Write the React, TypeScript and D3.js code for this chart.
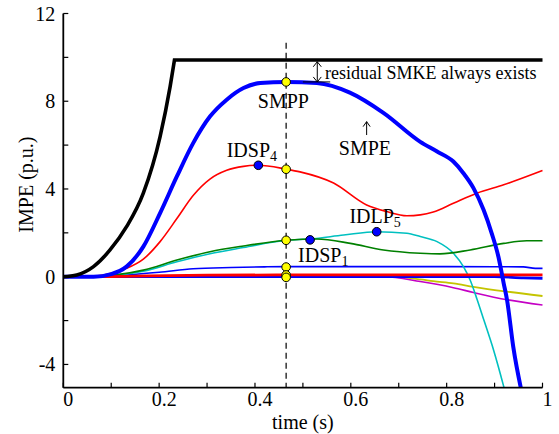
import React from 'react';
import * as d3 from 'd3';

// ---- data ----
const blackRiseT = [0, 0.028, 0.063, 0.0975, 0.132, 0.167, 0.202, 0.223, 0.232];
const blackRiseV = [0, 0.08, 0.46, 1.22, 2.28, 3.81, 6.39, 8.68, 9.88];
const blackFlatT = [0.232, 1.0];
const blackFlatV = [9.88, 9.88];

const smpeT = [0, 0.063, 0.1, 0.132, 0.167, 0.202, 0.237, 0.271, 0.306, 0.341, 0.376, 0.411, 0.466, 0.529, 0.598, 0.668, 0.745, 0.78, 0.814, 0.835, 0.856, 0.877, 0.894, 0.908, 0.919, 0.926, 0.939, 0.957];
const smpeV = [0, 0, 0.12, 0.46, 1.37, 2.9, 4.57, 6.09, 7.3, 8.07, 8.6, 8.83, 8.88, 8.83, 8.39, 7.47, 6.15, 5.71, 5.25, 4.72, 4.04, 3.05, 1.98, 0.91, -0.3, -1.06, -3.2, -5.3];

const redT = [0, 0.06, 0.0975, 0.132, 0.167, 0.202, 0.237, 0.271, 0.306, 0.341, 0.376, 0.407, 0.466, 0.494, 0.564, 0.633, 0.675, 0.717, 0.745, 0.772, 0.814, 0.863, 0.919, 1.0];
const redV = [0, 0.02, 0.15, 0.38, 0.8, 1.6, 2.65, 3.7, 4.45, 4.85, 5.03, 5.08, 4.9, 4.78, 4.27, 3.27, 2.97, 2.78, 2.82, 2.95, 3.35, 3.81, 4.19, 4.84];

const greenT = [0, 0.063, 0.167, 0.237, 0.306, 0.376, 0.466, 0.529, 0.599, 0.668, 0.745, 0.786, 0.849, 0.919, 0.967, 1.0];
const greenV = [0, 0.02, 0.3, 0.76, 1.14, 1.4, 1.66, 1.72, 1.52, 1.22, 1.07, 1.04, 1.22, 1.52, 1.64, 1.64];

const cyanT = [0, 0.063, 0.167, 0.237, 0.306, 0.376, 0.466, 0.515, 0.585, 0.654, 0.717, 0.745, 0.78, 0.814, 0.835, 0.849, 0.863, 0.878, 0.898, 0.919, 0.925];
const cyanV = [0, 0.02, 0.25, 0.68, 1.05, 1.33, 1.66, 1.72, 1.9, 2.05, 1.98, 1.83, 1.6, 1.07, 0.46, -0.15, -1.0, -2.0, -3.35, -5.0, -5.5];

const thinBlueT = [0, 0.063, 0.132, 0.2, 0.271, 0.35, 0.42, 0.466, 0.6, 0.8, 0.96, 0.985, 1.0];
const thinBlueV = [0, 0.01, 0.08, 0.2, 0.36, 0.42, 0.45, 0.46, 0.46, 0.46, 0.45, 0.38, 0.38];

const zeroRedT = [0, 0.06, 0.15, 0.3, 0.45, 1.0];
const zeroRedV = [0, 0, 0.03, 0.07, 0.08, 0.08];

const zeroBlueT = [0, 0.9, 0.96, 1.0];
const zeroBlueV = [0, 0, -0.05, -0.07];

const oliveT = [0, 0.68, 0.745, 0.772, 0.814, 0.856, 0.926, 1.0];
const oliveV = [0, 0, -0.12, -0.2, -0.3, -0.46, -0.68, -0.88];

const magentaT = [0, 0.67, 0.745, 0.814, 0.856, 0.926, 1.0];
const magentaV = [0, 0, -0.22, -0.5, -0.72, -1.05, -1.29];

const markT = 0.465;
const yellowV = [8.88, 4.9, 1.66, 0.44, 0.08, -0.03];
const blueDotT = [0.407, 0.515, 0.654];
const blueDotV = [5.08, 1.68, 2.05];

const xTicks = [0, 0.2, 0.4, 0.6, 0.8, 1];
const xTickLabels = ['0', '0.2', '0.4', '0.6', '0.8', '1'];
const xMinor = [0.1, 0.3, 0.5, 0.7, 0.9];
const yTicks = [12, 8, 4, 0, -4];
const yTickLabels = ['12', '8', '4', '0', '-4'];
const yMinor = [10, 6, 2, -2];

const W = 559;
const H = 434;
const FONT = "'Liberation Serif', 'DejaVu Serif', serif";

export default function App() {
  const x = d3.scaleLinear().domain([0, 1]).range([63.3, 542.5]);
  const y = d3.scaleLinear().domain([-5.06, 12]).range([387.7, 13.5]);
  const [x0, x1] = x.range();
  const [yb, yt] = y.range();

  const mk = (ts: number[], vs: number[], curve: any = d3.curveMonotoneX) =>
    d3.line<number>().x((_, i) => x(ts[i])).y((v) => y(v)).curve(curve)(vs) || '';

  const blackPath = mk(blackRiseT, blackRiseV) + 'L' + x(blackFlatT[1]) + ',' + y(blackFlatV[1]);

  const series = [
    { t: oliveT, v: oliveV, c: '#c4c400', w: 1.8 },
    { t: magentaT, v: magentaV, c: '#c400c4', w: 1.6 },
    { t: thinBlueT, v: thinBlueV, c: '#0000ff', w: 1.6 },
    { t: cyanT, v: cyanV, c: '#00c0c0', w: 1.6 },
    { t: greenT, v: greenV, c: '#008000', w: 1.6 },
    { t: redT, v: redV, c: '#ff0000', w: 1.6 },
    { t: zeroBlueT, v: zeroBlueV, c: '#0000ff', w: 2.8 },
    { t: zeroRedT, v: zeroRedV, c: '#ff0000', w: 2.8 },
    { t: smpeT, v: smpeV, c: '#0000ff', w: 4 },
  ];

  const arrowX = x(0.53);
  const arrowTop = y(9.8);
  const arrowBot = y(8.88);
  const smpeArrX = x(0.633);
  const smpeArrTop = y(7.07);
  const smpeArrBot = y(6.46);
  const tf = { fontFamily: FONT };

  return (
    <svg width={W} height={H} style={{ position: 'absolute', left: 0, top: 0, background: '#fff' }}>
      <defs>
        <clipPath id="plot">
          <rect x={x0} y={yt - 5} width={x1 - x0 + 5} height={yb - yt + 5} />
        </clipPath>
      </defs>
      {/* dashed marker line */}
      <line x1={x(markT)} x2={x(markT)} y1={y(10.67)} y2={yb} stroke="#000" strokeWidth={1.2} strokeDasharray="6,4" />
      <g clipPath="url(#plot)">
        {series.map((s, i) => (
          <path key={i} d={mk(s.t, s.v)} fill="none" stroke={s.c} strokeWidth={s.w} strokeLinejoin="round" />
        ))}
        <path d={blackPath} fill="none" stroke="#000" strokeWidth={3.6} strokeLinejoin="miter" />
      </g>
      {/* axes */}
      <line x1={x0} x2={x0} y1={yt} y2={yb} stroke="#000" strokeWidth={1.8} />
      <line x1={x0} x2={x1} y1={yb} y2={yb} stroke="#000" strokeWidth={1.8} />
      {yTicks.concat(yMinor).map((v, i) => (
        <line key={'yt' + i} x1={x0} x2={x0 + 5} y1={y(v)} y2={y(v)} stroke="#000" strokeWidth={1.2} />
      ))}
      {xTicks.concat(xMinor).map((v, i) => (
        <line key={'xt' + i} x1={x(v)} x2={x(v)} y1={yb} y2={yb - 5} stroke="#000" strokeWidth={1.2} />
      ))}
      <g style={tf}>
        {yTicks.map((v, i) => (
          <text key={'yl' + i} x={x0 - 8} y={y(v)} dy="0.35em" textAnchor="end" fontSize={20}>{yTickLabels[i]}</text>
        ))}
        {xTicks.map((v, i) => (
          <text key={'xl' + i} x={x(v) + 5} y={yb + 18.5} textAnchor="middle" fontSize={20}>{xTickLabels[i]}</text>
        ))}
        <text x={x(0.5)} y={429} textAnchor="middle" fontSize={20}>time (s)</text>
        <text transform={`translate(33,${y(4.2)}) rotate(-90)`} textAnchor="middle" fontSize={20}>IMPE (p.u.)</text>
        <text x={x(0.546)} y={y(9.01)} fontSize={18}>residual SMKE always exists</text>
        <text x={x(0.406)} y={y(7.69)} fontSize={20}>SMPP</text>
        <text x={x(0.575)} y={y(5.55)} fontSize={20}>SMPE</text>
        <text x={x(0.341)} y={y(5.46)} fontSize={20}>IDSP<tspan fontSize={14} dy={4}>4</tspan></text>
        <text x={x(0.597)} y={y(2.43)} fontSize={20}>IDLP<tspan fontSize={14} dy={4}>5</tspan></text>
        <text x={x(0.49)} y={y(0.68)} fontSize={20}>IDSP<tspan fontSize={14} dy={4}>1</tspan></text>
      </g>

      {/* annotations */}
      <line x1={arrowX} x2={arrowX} y1={arrowTop} y2={arrowBot} stroke="#000" strokeWidth={1} />
      <path d={`M${arrowX - 4},${arrowTop + 5}L${arrowX},${arrowTop}L${arrowX + 4},${arrowTop + 5}`} fill="none" stroke="#000" strokeWidth={1} />
      <path d={`M${arrowX - 4},${arrowBot - 5}L${arrowX},${arrowBot}L${arrowX + 4},${arrowBot - 5}`} fill="none" stroke="#000" strokeWidth={1} />
      <line x1={x(0.5)} x2={x(0.557)} y1={arrowBot} y2={arrowBot} stroke="#000" strokeWidth={1} />

      <line x1={smpeArrX} x2={smpeArrX} y1={smpeArrTop} y2={smpeArrBot} stroke="#000" strokeWidth={1} />
      <path d={`M${smpeArrX - 3.5},${smpeArrTop + 5}L${smpeArrX},${smpeArrTop}L${smpeArrX + 3.5},${smpeArrTop + 5}`} fill="none" stroke="#000" strokeWidth={1} />

      {/* markers */}
      {yellowV.map((v, i) => (
        <circle key={'yd' + i} cx={x(markT)} cy={y(v)} r={4.3} fill="#ffff00" stroke="#000" strokeWidth={1} />
      ))}
      {blueDotT.map((t, i) => (
        <circle key={'bd' + i} cx={x(t)} cy={y(blueDotV[i])} r={4.3} fill="#0000ff" stroke="#000" strokeWidth={1} />
      ))}
    </svg>
  );
}
